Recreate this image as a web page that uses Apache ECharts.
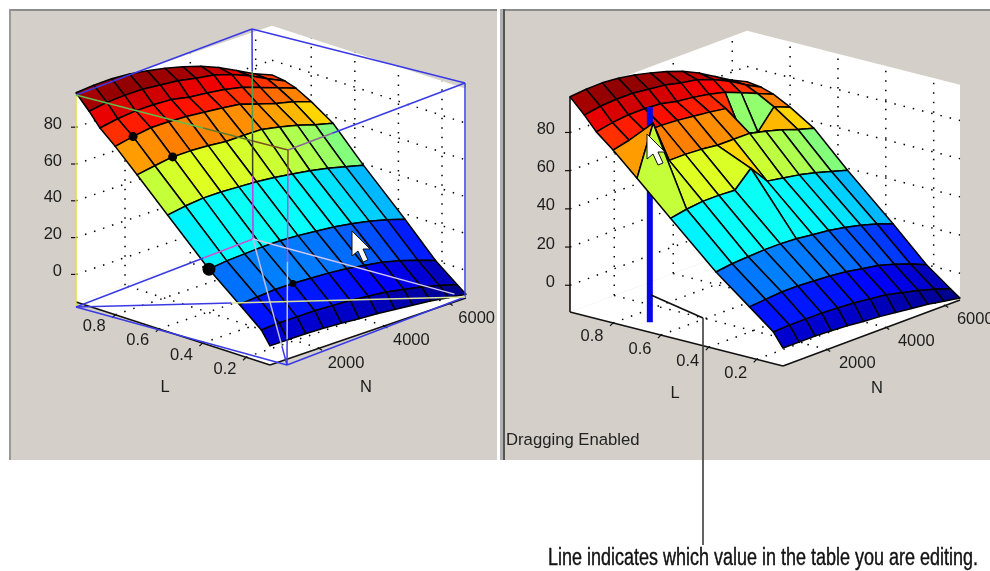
<!DOCTYPE html>
<html><head><meta charset="utf-8">
<style>html,body{margin:0;padding:0;background:#fff}#c{width:990px;height:571px}canvas{filter:blur(.45px)}</style>
<script src="https://cdn.jsdelivr.net/npm/echarts@6/dist/echarts.min.js"></script>
</head><body><div id="c"></div>
<script>
const lValues=[0.98,0.92,0.87,0.80,0.70,0.56,0.37,0.23,0.13,0.09];
const nValues=[500,1045,1590,2135,2680,3225,3775,4320,4865,5410,5955,6500];
const zValues=[
[98.7,99.5,99.7,99,97.5,95.5,93,90,86,81,76,72],
[91,92.5,93,93,92,91,89,87.5,84.5,80.5,75.5,71],
[83.8,85.5,86.5,86.5,86,84,83,81.5,79.4,76,72.5,69],
[76.5,78.5,80,80,79.5,78.5,77.5,76.2,73,70,67.7,64.4],
[64.9,66.5,68,68,67.5,66.5,66.5,66.4,64.4,62,59,56.5],
[48.4,50,51,51,50.5,50,49,47.5,46,44,41.5,39],
[26.3,27.5,28,28.5,28.5,28,27,26,24.5,22.5,20,17],
[12.5,13.3,14,14,13.5,13,12,10.5,9,6.5,3.5,0],
[2.5,3,3,3,2.5,2,1,0,-2,-4,-6.5,-9.4],
[-4.6,-4.6,-4.6,-5,-5.5,-6.4,-7,-8,-9,-10,-11.5,-13]];
const editedPoints=[[4,1,90.6],[3,8,59.7],[3,9,57.6],[5,5,58.9]];
const editedFaceColors=[[2,8,43],[2,9,43],[4,5,59]];
const selectedPoints=[[3,1],[4,2],[6,0],[7,3]];
const zTicks=[0,20,40,60,80];
const lTicks=[0.8,0.6,0.4,0.2];
const nTicks=[2000,4000,6000];
const barPoint=[0.713,1040,98.7];
const caption='Line indicates which value in the table you are editing.';

const L0=0.98,L1=0.09,N0=500,N1=6500,ZTOP=98.7;
const leftView={ox:76,oy:302,lx:194,ly:63,nx:196,ny:-67,zs:1.84,zb:-15,lo:[-21,12],no:[27,15],zlx:62,
 lt:[165,387],nt:[366,387]};
const rightView={ox:570,oy:312,lx:213,ly:54,nx:177,ny:-66,zs:1.91,zb:-14,lo:[-21,14],no:[30,14],zlx:555,
 lt:[675,393],nt:[877,388]};
function P(v,L,N,z){const f=(L0-L)/(L0-L1),n=(N-N0)/(N1-N0);
 return [v.ox+v.lx*f+v.nx*n, v.oy+v.ly*f+v.ny*n-(z-v.zb)*v.zs];}
function clamp(a){return Math.max(0,Math.min(1,a));}
function jet(z){const t=(z+13)/108;
 const c=[Math.min(4*t-1.5,-4*t+4.5),Math.min(4*t-.5,-4*t+3.5),Math.min(4*t+.5,-4*t+2.5)].map(a=>Math.round(clamp(a)*255));
 return 'rgb('+c.join(',')+')';}

const FONT='16.5px "Liberation Sans"';
function cs(name,items,render,z){return {type:'custom',name,coordinateSystem:'cartesian2d',silent:true,animation:false,clip:false,z:z,
 data:items.map((_,i)=>[i,i]),encode:{x:0,y:1},
 renderItem:(p,api)=>{const toPx=q=>api.coord(q);return render(items[p.dataIndex],toPx);}};}
function poly(pts,fill,stroke,w){return {type:'polygon',shape:{points:pts},style:{fill:fill,stroke:stroke||null,lineWidth:w||0,lineJoin:'round'}};}
function seg(a,b,color,w,dash){return {type:'line',shape:{x1:a[0],y1:a[1],x2:b[0],y2:b[1]},style:{stroke:color,lineWidth:w||1,lineDash:dash||null,fill:null}};}
function txt(s,at,align,font,color){return {type:'text',style:{text:s,x:at[0],y:at[1],align:align||'center',verticalAlign:'middle',font:font||FONT,fill:color||'#1c1c1c'}};}

function panel(v,name,edits,colorEdits){
 const z=zValues.map(r=>r.slice());
 edits.forEach(e=>{z[e[0]][e[1]]=e[2];});
 const ce={};colorEdits.forEach(e=>{ce[e[0]+','+e[1]]=e[2];});
 const series=[];
 series.push(cs(name+' walls',[0,1,2],(i,c)=>{
  const A=[L0,N0],B=[L0,N1],R=[L1,N1],F=[L1,N0];
  const q=i==0?[[...F,v.zb],[...A,v.zb],[...B,v.zb],[...R,v.zb]]:i==1?[[...A,v.zb],[...B,v.zb],[...B,ZTOP],[...A,ZTOP]]:[[...B,v.zb],[...R,v.zb],[...R,ZTOP],[...B,ZTOP]];
  return poly(q.map(p=>c(P(v,p[0],p[1],p[2]))),'#ffffff');
 },3));
 const dots=[];
 nTicks.forEach(n=>{dots.push([[L1,n,v.zb],[L0,n,v.zb]]);dots.push([[L0,n,v.zb],[L0,n,ZTOP]]);});
 lTicks.forEach(l=>{dots.push([[l,N0,v.zb],[l,N1,v.zb]]);dots.push([[l,N1,v.zb],[l,N1,ZTOP]]);});
 zTicks.forEach(t=>{dots.push([[L0,N0,t],[L0,N1,t]]);dots.push([[L0,N1,t],[L1,N1,t]]);});
 series.push(cs(name+' grid',dots,(d,c)=>seg(c(P(v,...d[0])),c(P(v,...d[1])),'#000',1.5,[1.5,8]),4));
 const axes=[[[L0,N0,v.zb],[L1,N0,v.zb]],[[L1,N0,v.zb],[L1,N1,v.zb]]];
 if(name=='right')axes.push([[L0,N0,v.zb],[L0,N0,ZTOP]]);
 series.push(cs(name+' axes',axes,(d,c)=>seg(c(P(v,...d[0])),c(P(v,...d[1])),'#111',1.6),5));
 series.push(cs(name+' z ticks',zTicks,(t,c)=>{const a=P(v,L0,N0,t);return {type:'group',children:[
   seg(c(a),c([a[0]-5,a[1]]),'#111',1.2),txt(String(t),c([v.zlx,a[1]-3]),'right')]};},5));
 series.push(cs(name+' L ticks',lTicks,(t,c)=>{const a=P(v,t,N0,v.zb);return {type:'group',children:[
   seg(c(a),c([a[0]-3,a[1]+3]),'#111',1.2),txt(t.toFixed(1),c([a[0]+v.lo[0],a[1]+v.lo[1]]))]};},5));
 series.push(cs(name+' N ticks',nTicks,(t,c)=>{const a=P(v,L1,t,v.zb);return {type:'group',children:[
   seg(c(a),c([a[0]+3,a[1]+2]),'#111',1.2),txt(String(t),c([a[0]+v.no[0],a[1]+v.no[1]]))]};},5));
 series.push(cs(name+' L title',['L'],(t,c)=>txt(t,c(v.lt)),5));
 series.push(cs(name+' N title',['N'],(t,c)=>txt(t,c(v.nt)),5));
 const faces=[];
 for(let r=0;r<lValues.length-1;r++)for(let j=nValues.length-2;j>=0;j--)faces.push([r,j]);
 const faceEl=(f,c)=>{const r=f[0],j=f[1];
   const pts=[[r,j],[r,j+1],[r+1,j+1],[r+1,j]].map(q=>c(P(v,lValues[q[0]],nValues[q[1]],z[q[0]][q[1]])));
   const key=r+','+j;
   const col=jet(ce[key]!==undefined?ce[key]:zValues[r+1][j]);
   return poly(pts,col,'#000',1.5);};
 if(name=='right'){
  series.push(cs('right surface back',faces.filter(f=>f[0]<3),faceEl,6));
  series.push(cs('right bar',[barPoint],(b,c)=>seg(c(P(v,b[0],b[1],v.zb)),c(P(v,b[0],b[1],b[2])),'#0606e6',6),7));
  series.push(cs('right surface front',faces.filter(f=>f[0]>=3),faceEl,8));
 } else {
  series.push(cs(name+' surface',faces,faceEl,6));
 }
 return series;
}

const left=panel(leftView,'left',[],[]);
const right=panel(rightView,'right',editedPoints,editedFaceColors);

const frameCorner={FB:[287,365],LB:[76,307],RB:[465,297],BB:[253,239],FT:[288,150],LT:[76,95],RT:[465,83],BT:[252,29]};
const BLUE='#3a3ae4';
const frameSegments=[
 ['LT','BT',0,1,BLUE],['BT','RT',0,1,BLUE],['RT','RB',0,1,BLUE],['RB','FB',0,1,BLUE],['LB','FB',0,1,BLUE],
 ['LT','LB',0,1,'#e2de38'],
 ['LT','FT',0,.6,'#62bb4c'],['LT','FT',.6,.83,'#5f7a30'],['LT','FT',.83,1,'#7a5020'],
 ['FT','RT',0,.25,'#8a6a9a'],['FT','RT',.25,1,BLUE],
 ['FT','FB',0,.09,'#7a5020'],['FT','FB',.09,.52,'#d040d0'],['FT','FB',.52,.88,'#bcbcf4'],['FT','FB',.88,1,BLUE],
 ['BT','BB',0,.2,BLUE],['BT','BB',.2,.5,'#4fa050'],['BT','BB',.5,.7,'#404020'],['BT','BB',.7,1,'#c040e0'],
 ['LB','BB',0,.72,BLUE],['LB','BB',.72,1,'#d050d0'],
 ['BB','RB',0,.95,'#d4c6f0'],
 ['BB','FB',0,.85,'#bcbce8'],['BB','FB',.85,1,BLUE],
 ['LB','RB',0,.4,BLUE],['LB','RB',.4,1,'#dbe39a']];
const mix=(a,b,t)=>[a[0]+(b[0]-a[0])*t,a[1]+(b[1]-a[1])*t];
const frameSeries=cs('left frame',frameSegments,(s,c)=>{const a=frameCorner[s[0]],b=frameCorner[s[1]];
  return seg(c(mix(a,b,s[2])),c(mix(a,b,s[3])),s[4],1.5);},9);
const dotSizes=[4.5,4.5,6.5,3.5];
const dotSeries=cs('left selected points',selectedPoints,(s,c)=>{const i=selectedPoints.indexOf(s);
  const a=c(P(leftView,lValues[s[0]],nValues[s[1]],zValues[s[0]][s[1]]));
  return {type:'circle',shape:{cx:a[0],cy:a[1],r:dotSizes[i]},style:{fill:'#000'}};},10);

const arrowShape=[[0,0],[0,25],[6,20],[11,31],[16,29],[11,18],[18,18]];
const cursorSeries=cs('cursors',[[352,231],[647,134]],(t,c)=>poly(arrowShape.map(q=>c([t[0]+q[0],t[1]+q[1]])),'#ffffff','#111',1),11);
const calloutPath=[[651,295],[703,318],[703,545]];
const calloutSeries=cs('callout',[0,1],(i,c)=>seg(c(calloutPath[i]),c(calloutPath[i+1]),i?'#3c3c3c':'#111',i?1.6:1.8),12);
const statusSeries=cs('status',['Dragging Enabled'],(t,c)=>txt(t,c([506,440]),'left','16.7px "Liberation Sans"','#222'),12);
const capFont='23px "Liberation Sans"';
const mctx=document.createElement('canvas').getContext('2d');mctx.font=capFont;
const capScale=430/mctx.measureText(caption).width;
const captionSeries=cs('caption',[caption],(t,c)=>{const a=c([548,559]);
  return {type:'text',x:a[0],y:a[1],scaleX:capScale,style:{text:t,x:0,y:0,align:'left',verticalAlign:'middle',font:capFont,fill:'#111',stroke:'#111',lineWidth:.4}};},12);

const chart=echarts.init(document.getElementById('c'),null,{renderer:'canvas',width:990,height:571});
chart.setOption({
 animation:false,
 grid:{left:0,right:0,top:0,bottom:0},
 xAxis:{type:'value',min:0,max:990,show:false},
 yAxis:{type:'value',min:0,max:571,inverse:true,show:false},
 graphic:[
  {type:'rect',z:-1,shape:{x:9,y:9,width:488,height:451},style:{fill:'#d4d0c9',stroke:null}},
  {type:'rect',z:-1,shape:{x:505,y:9,width:485,height:451},style:{fill:'#d4d0c9'}},
  {type:'rect',z:0,shape:{x:9,y:9,width:488,height:2},style:{fill:'#8c8c8c'}},
  {type:'rect',z:0,shape:{x:9,y:9,width:2,height:451},style:{fill:'#9a9a9a'}},
  {type:'rect',z:0,shape:{x:505,y:9,width:485,height:2},style:{fill:'#8c8c8c'}},
  {type:'rect',z:0,shape:{x:500,y:9,width:3,height:451},style:{fill:'#b0b0b0'}},
  {type:'rect',z:0,shape:{x:503,y:9,width:2,height:451},style:{fill:'#555'}}
 ],
 series:[...left,...right,frameSeries,dotSeries,cursorSeries,calloutSeries,statusSeries,captionSeries]
});
</script></body></html>
